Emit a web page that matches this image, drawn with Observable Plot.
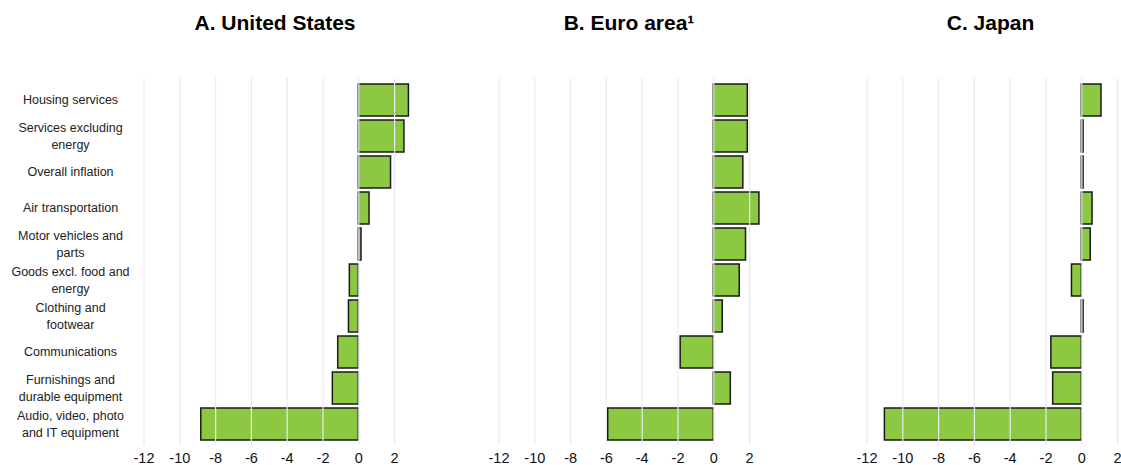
<!DOCTYPE html>
<html>
<head>
<meta charset="utf-8">
<script src="https://cdn.jsdelivr.net/npm/d3@7"></script>
<script src="https://cdn.jsdelivr.net/npm/@observablehq/plot@0.6"></script>
<style>
  html, body { margin: 0; padding: 0; background: #fff; overflow: hidden; }
  #wrap { position: relative; width: 1121px; height: 465px; overflow: hidden; font-family: "Liberation Sans", Arial, sans-serif; }
  .title { position: absolute; top: 12px; width: 300px; text-align: center; font-size: 21px; font-weight: bold; line-height: 22px; color: #000; }
  .panel { position: absolute; top: 0; width: 422px; height: 465px; }
  .panel svg { max-width: none !important; }
</style>
</head>
<body>
<div id="wrap"></div>
<script>
// ---- data ----
const categories = ["housing", "services", "overall", "air", "motor", "goods", "clothing", "comms", "furnishings", "audio"];
const categoryLabels = [
  "Housing services",
  "Services excluding\nenergy",
  "Overall inflation",
  "Air transportation",
  "Motor vehicles and\nparts",
  "Goods excl. food and\nenergy",
  "Clothing and\nfootwear",
  "Communications",
  "Furnishings and\ndurable equipment",
  "Audio, video, photo\nand IT equipment"
];
const unitedStates = [2.8, 2.55, 1.8, 0.6, 0.15, -0.5, -0.55, -1.15, -1.45, -8.8];
const euroArea     = [1.9, 1.9, 1.65, 2.55, 1.8, 1.45, 0.5, -1.85, 0.95, -5.9];
const japan        = [1.1, 0.1, 0.1, 0.6, 0.5, -0.55, 0.1, -1.7, -1.6, -11.0];
const panelTitles = ["A. United States", "B. Euro area¹", "C. Japan"];
const xTicks = [-12, -10, -8, -6, -4, -2, 0, 2];
const xDomain = [-12, 3];

// ---- layout ----
const panels = [
  {title: panelTitles[0], values: unitedStates, left: 0,     titleCenter: 275,   labels: true},
  {title: panelTitles[1], values: euroArea,     left: 354.8, titleCenter: 629,   labels: false},
  {title: panelTitles[2], values: japan,        left: 722.7, titleCenter: 990.5, labels: false}
];
const wrap = document.getElementById("wrap");
const font = '"Liberation Sans", Arial, sans-serif';

for (const p of panels) {
  const data = categories.map((c, i) => ({cat: c, value: p.values[i]}));
  const marks = [
    Plot.barX(data, {x: "value", y: "cat", fill: "#8cc841", stroke: "#1a1a1a", strokeWidth: 1.5}),
    Plot.gridX(xTicks, {stroke: "#e8eaf4", strokeOpacity: 1, strokeWidth: 1.2}),
    Plot.axisX(xTicks, {tickSize: 0, tickPadding: 7, tickFormat: d => String(d), fill: "#111", fontSize: 14.5})
  ];
  if (p.labels) {
    marks.push(Plot.text(categories, {
      y: d => d,
      text: (d, i) => categoryLabels[i],
      frameAnchor: "left",
      textAnchor: "middle",
      dx: -73.5,
      dy: -1.5,
      fontSize: 12.5,
      lineHeight: 1.33,
      fill: "#222"
    }));
  }
  const chart = Plot.plot({
    width: 422,
    height: 465,
    marginLeft: 143.5,
    marginRight: 10,
    marginTop: 78,
    marginBottom: 20,
    x: {domain: xDomain, label: null, axis: null},
    y: {domain: categories, padding: 0.12, insetTop: 1.3, insetBottom: 1.3, axis: null, label: null},
    style: {fontFamily: font, fontSize: "14.5px", background: "transparent", color: "#111", maxWidth: "none"},
    marks
  });
  const holder = document.createElement("div");
  holder.className = "panel";
  holder.style.left = p.left + "px";
  holder.appendChild(chart);
  wrap.appendChild(holder);

  const t = document.createElement("div");
  t.className = "title";
  t.style.left = (p.titleCenter - 150) + "px";
  t.textContent = p.title;
  wrap.appendChild(t);
}
</script>
</body>
</html>
